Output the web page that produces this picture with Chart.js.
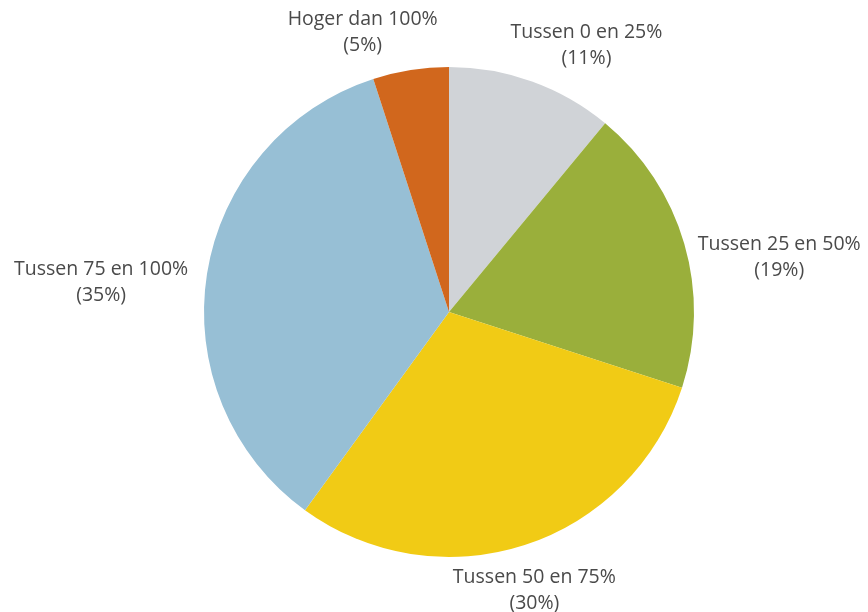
<!DOCTYPE html>
<html>
<head>
<meta charset="utf-8">
<script src="https://cdn.jsdelivr.net/npm/chart.js@4"></script>
<style>
  html, body { margin: 0; padding: 0; background: #fff; }
</style>
</head>
<body>
<canvas id="chartVerdeling" width="868" height="612"></canvas>
<script>
// Gegevens
const categorieen = ['Tussen 0 en 25%', 'Tussen 25 en 50%', 'Tussen 50 en 75%', 'Tussen 75 en 100%', 'Hoger dan 100%'];
const percentages = [11, 19, 30, 35, 5];
const kleuren = ['#d0d3d7', '#9aaf3b', '#f1cb15', '#97bfd5', '#d1671d'];

// kleine verschuiving per label (px), puur voor de opmaak
const labelVerschuiving = [[26, -6], [9, 23], [-18, 15], [-12, 14], [-35, -6]];

// Labels buiten de taart tekenen
const buitenLabels = {
    id: 'buitenLabels',
    afterDraw(chart) {
        const ctx = chart.ctx;
        const meta = chart.getDatasetMeta(0);
        ctx.save();
        ctx.font = '19.5px "Open Sans", sans-serif';
        ctx.fillStyle = '#4a4a4a';
        ctx.textAlign = 'center';
        ctx.textBaseline = 'middle';
        const lijnHoogte = 26;
        meta.data.forEach((arc, i) => {
            const p = arc.getProps(['x', 'y', 'startAngle', 'endAngle', 'outerRadius'], true);
            const mid = (p.startAngle + p.endAngle) / 2;
            const cos = Math.cos(mid), sin = Math.sin(mid);
            const regel1 = categorieen[i];
            const regel2 = '(' + percentages[i] + '%)';
            const w = Math.max(ctx.measureText(regel1).width, ctx.measureText(regel2).width);
            const h = 48;
            const ax = p.x + (p.outerRadius + 8) * cos;
            const ay = p.y + (p.outerRadius + 8) * sin;
            const bx = ax + cos * w / 2 + labelVerschuiving[i][0];
            const by = ay + sin * h / 2 + labelVerschuiving[i][1];
            ctx.fillText(regel1, bx, by - lijnHoogte / 2);
            ctx.fillText(regel2, bx, by + lijnHoogte / 2);
        });
        ctx.restore();
    }
};

new Chart(document.getElementById('chartVerdeling'), {
    type: 'pie',
    data: {
        labels: categorieen,
        datasets: [{
            data: percentages,
            backgroundColor: kleuren,
            borderWidth: 0
        }]
    },
    options: {
        responsive: false,
        devicePixelRatio: 1,
        animation: false,
        layout: {
            padding: { top: 67, bottom: 55, left: 204, right: 174 }
        },
        plugins: {
            legend: { display: false },
            tooltip: { enabled: false }
        }
    },
    plugins: [buitenLabels]
});
</script>
</body>
</html>
